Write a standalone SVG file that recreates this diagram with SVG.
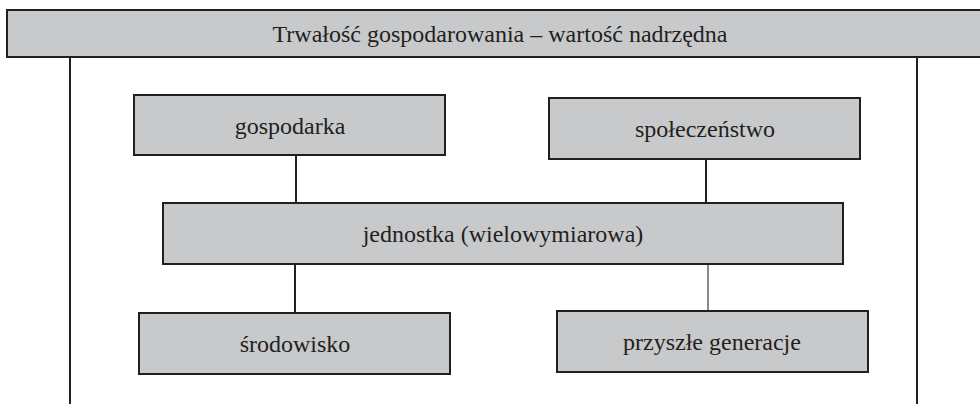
<svg xmlns="http://www.w3.org/2000/svg" width="980" height="404" viewBox="0 0 980 404">
<style>
.box{fill:#c8c9cb;stroke:#231f20;stroke-width:2}
.t{font-family:"Liberation Serif","Times New Roman",serif;font-size:24px;fill:#231f20;text-anchor:middle}
.c{stroke:#231f20;stroke-width:2;fill:none}
.cg{stroke:#8a8a8c;stroke-width:2;fill:none}
</style>
<rect width="980" height="404" fill="#ffffff"/>
<g id="frame">
<line class="c" x1="70" y1="57" x2="70" y2="404"/>
<line class="c" x1="917" y1="57" x2="917" y2="404"/>
</g>
<g id="banner">
<rect class="box" x="7" y="10" width="980" height="47"/>
<text class="t" x="500" y="42">Trwałość gospodarowania – wartość nadrzędna</text>
</g>
<g id="connectors">
<line class="c" x1="296" y1="155" x2="296" y2="203"/>
<line class="c" x1="706" y1="159" x2="706" y2="203"/>
<line class="c" x1="295" y1="264" x2="295" y2="313"/>
<line class="cg" x1="708" y1="264" x2="708" y2="311"/>
</g>
<g id="gospodarka">
<rect class="box" x="134" y="95" width="311" height="60"/>
<text class="t" x="290" y="134">gospodarka</text>
</g>
<g id="spoleczenstwo">
<rect class="box" x="549" y="98" width="311" height="61"/>
<text class="t" x="705" y="137">społeczeństwo</text>
</g>
<g id="jednostka">
<rect class="box" x="163" y="203" width="680" height="61"/>
<text class="t" x="503" y="242">jednostka (wielowymiarowa)</text>
</g>
<g id="srodowisko">
<rect class="box" x="139" y="313" width="311" height="61"/>
<text class="t" x="295" y="352">środowisko</text>
</g>
<g id="przyszle">
<rect class="box" x="557" y="311" width="311" height="61"/>
<text class="t" x="712" y="350">przyszłe generacje</text>
</g>
</svg>
